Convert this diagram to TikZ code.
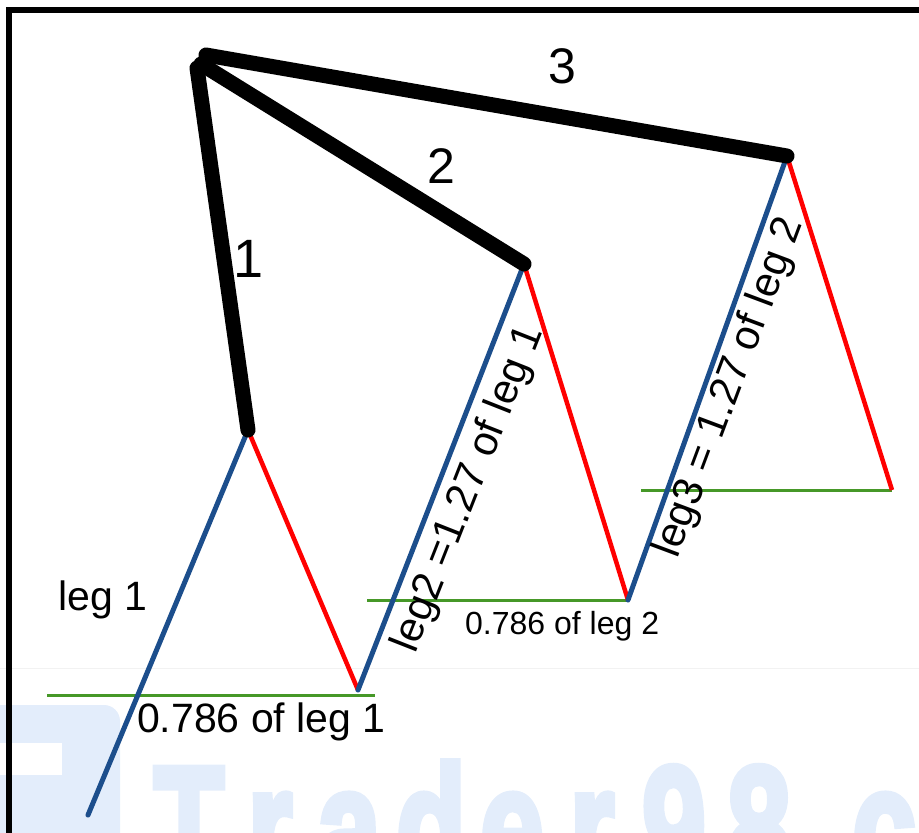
\documentclass[tikz,border=0pt]{standalone}
\usepackage{fontspec}
\setmainfont{Liberation Sans}
\newfontfamily\wmfont{Liberation Sans}[BoldFeatures={FakeBold=4}]
\definecolor{legblue}{RGB}{28,78,140}
\definecolor{legred}{RGB}{255,0,0}
\definecolor{fibgreen}{RGB}{70,152,40}
\definecolor{wmblue}{RGB}{227,237,251}
\begin{document}
\begin{tikzpicture}[x=1pt,y=-1pt,
  wave/.style={line width=15pt, line cap=round, black},
  bluel/.style={line width=5pt, legblue, line cap=round},
  redl/.style={line width=4.5pt, legred},
  greenl/.style={line width=3pt, fibgreen},
  bignum/.style={inner sep=0pt, font=\fontsize{54}{60}\selectfont},
  lbl/.style={inner sep=0pt, font=\fontsize{41}{48}\selectfont},
  smalllbl/.style={inner sep=0pt, font=\fontsize{32}{38}\selectfont},
  rotlbl/.style={inner sep=0pt, font=\fontsize{42}{48}\selectfont},
  wm/.style={inner sep=0pt, anchor=base, text=wmblue, xscale=0.67,
    font=\fontsize{173}{180}\selectfont\wmfont\bfseries}]
\useasboundingbox (0,0) rectangle (919,833);
\begin{scope}
  \clip (0,0) rectangle (919,833);
  % watermark
  \fill[wmblue, rounded corners=16pt] (-30,705) rectangle (120,880);
  \fill[white] (-5,743) rectangle (62,775);
  \draw[black!5, line width=1pt] (0,668) -- (919,668);
  \node[wm] (w1) at (189,887) {T};
  \node[wm] (w2) at (270,887) {r};
  \node[wm] (w3) at (349,887) {a};
  \node[wm] (w4) at (431,887) {d};
  \node[wm] (w5) at (512,887) {e};
  \node[wm] (w6) at (592,887) {r};
  \node[wm] (w7) at (674,887) {9};
  \node[wm] (w8) at (759,887) {8};
  \node[wm] (w9) at (822,887) {.};
  \node[wm] (w10) at (884,887) {c};
  % frame
  \draw[line width=6pt, black] (9,840) -- (9,10) -- (925,10);
\end{scope}

% points
\coordinate (T1) at (197,68);
\coordinate (T2) at (201,64);
\coordinate (T3) at (206,55);
\coordinate (P1) at (248,430);
\coordinate (P2) at (524,264);
\coordinate (P3) at (787,156);
\coordinate (B0) at (88,815);
\coordinate (Q1) at (358,690);
\coordinate (Q2) at (628,600);
\coordinate (Q3) at (892,490);
\coordinate (G1a) at (47,695);
\coordinate (G1b) at (375,695);
\coordinate (G2a) at (367,600);
\coordinate (G3a) at (641,490);

% green retracement lines
\draw[greenl] (G1a) -- (G1b);
\draw[greenl] (G2a) -- (Q2);
\draw[greenl] (G3a) -- (Q3);

% legs
\draw[bluel] (B0) -- (P1);
\draw[redl] (P1) -- (Q1);
\draw[bluel] (Q1) -- (P2);
\draw[redl] (P2) -- (Q2);
\draw[bluel] (Q2) -- (P3);
\draw[redl] (P3) -- (Q3);

% thick waves
\draw[wave] (T1) -- (P1);
\draw[wave] (T2) -- (P2);
\draw[wave] (T3) -- (P3);

% labels
\node[bignum] (n1) at (249,259) {1};
\node[bignum, font=\fontsize{50}{56}\selectfont] (n2) at (441,166) {2};
\node[bignum, font=\fontsize{50}{56}\selectfont] (n3) at (562,66) {3};
\node[lbl, anchor=base west] (l1) at (58,610) {leg 1};
\node[lbl, anchor=base west] (f1) at (137,732) {0.786 of leg 1};
\node[smalllbl, anchor=base west] (f2) at (465,634) {0.786 of leg 2};
\node[rotlbl, rotate=68.5] (l2) at (469,489) {leg2 =1.27 of leg 1};
\node[rotlbl, rotate=69.5] (l3) at (730,388) {leg3 = 1.27 of leg 2};
\end{tikzpicture}
\end{document}
